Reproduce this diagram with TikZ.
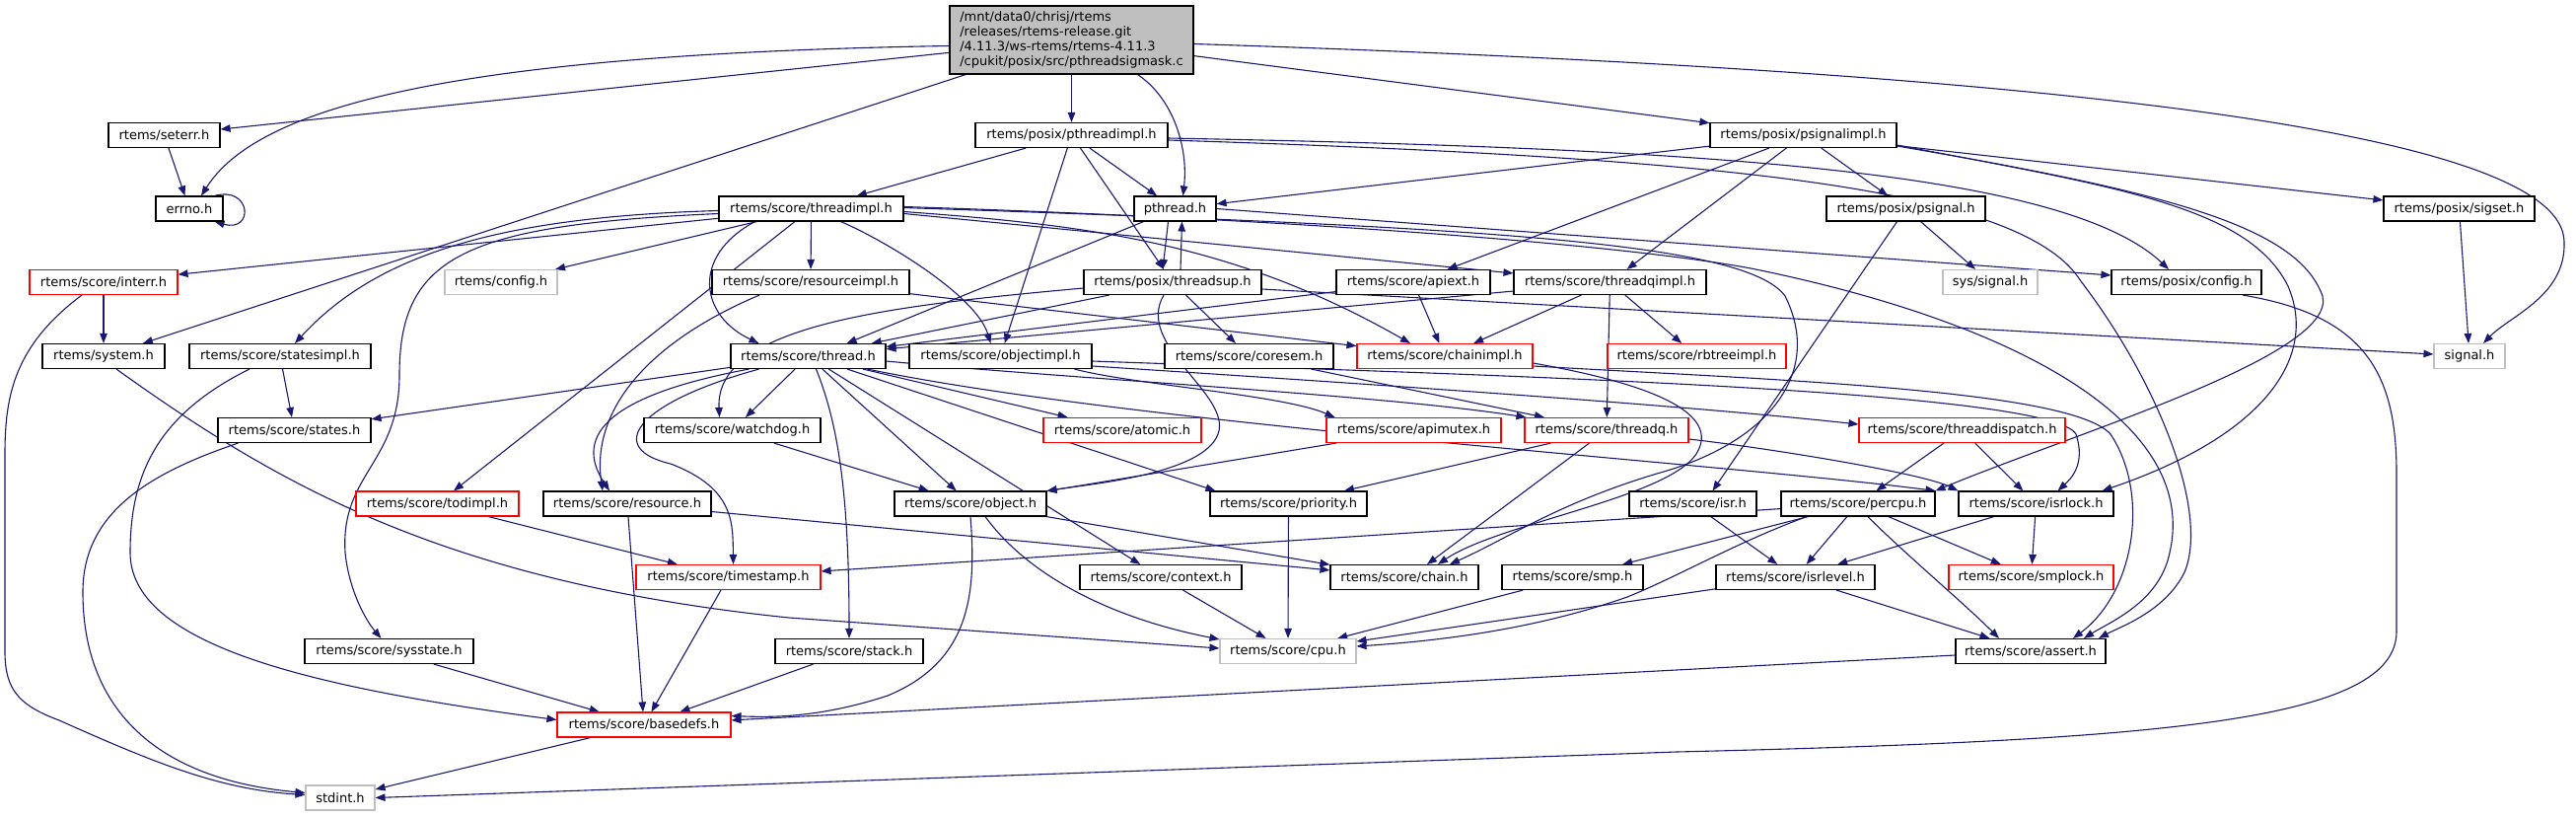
\documentclass[tikz,border=0pt]{standalone}
\usepackage{fontspec}
\setmainfont{DejaVu Sans}
\usetikzlibrary{arrows.meta,backgrounds}
\definecolor{edgec}{HTML}{191970}
\definecolor{redb}{HTML}{FF0000}
\definecolor{greyb}{HTML}{BFBFBF}
\definecolor{mainfill}{HTML}{BFBFBF}
\tikzset{
  hnode/.style={draw=black, fill=white, line width=1.1pt, inner sep=0pt, minimum height=25pt, font=\fontsize{13}{15}\selectfont, anchor=center},
  rednode/.style={hnode, draw=redb},
  greynode/.style={hnode, draw=greyb},
  dep/.style={draw=edgec, line width=1.1pt, -{Triangle[length=10pt,width=7.5pt]}},
}
\begin{document}
\begin{tikzpicture}[x=1pt,y=-1pt]
\useasboundingbox (0,0) rectangle (2612,828);
% row 0
\node[hnode, fill=mainfill, minimum width=247pt, minimum height=69pt, align=left] (main) at (1086.5,40.5) {/mnt/data0/chrisj/rtems\\/releases/rtems-release.git\\/4.11.3/ws-rtems/rtems-4.11.3\\/cpukit/posix/src/pthreadsigmask.c};
% row 1
\node[hnode, minimum width=113pt] (seterr) at (166.5,137) {rtems/seterr.h};
\node[hnode, minimum width=195pt] (pthreadimpl) at (1086.5,137) {rtems/posix/pthreadimpl.h};
\node[hnode, minimum width=189pt] (psignalimpl) at (1828.5,137) {rtems/posix/psignalimpl.h};
% row 2
\node[hnode, minimum width=68pt] (errno) at (192,211.5) {errno.h};
\node[hnode, minimum width=187pt] (threadimpl) at (822.5,211.5) {rtems/score/threadimpl.h};
\node[hnode, minimum width=83pt] (pthread) at (1191.5,211.5) {pthread.h};
\node[hnode, minimum width=161pt] (psignal) at (1932.5,211.5) {rtems/posix/psignal.h};
\node[hnode, minimum width=153pt] (sigset) at (2493.5,211.5) {rtems/posix/sigset.h};
% row 3
\node[rednode, minimum width=150pt] (interr) at (105,286) {rtems/score/interr.h};
\node[greynode, minimum width=114pt] (config) at (508,286) {rtems/config.h};
\node[hnode, minimum width=200pt] (resourceimpl) at (822,286) {rtems/score/resourceimpl.h};
\node[hnode, minimum width=180pt] (threadsup) at (1189,286) {rtems/posix/threadsup.h};
\node[hnode, minimum width=156pt] (apiext) at (1433,286) {rtems/score/apiext.h};
\node[hnode, minimum width=195pt] (threadqimpl) at (1632.5,286) {rtems/score/threadqimpl.h};
\node[greynode, minimum width=96pt] (syssignal) at (2018,286) {sys/signal.h};
\node[hnode, minimum width=152pt] (posixconfig) at (2217,286) {rtems/posix/config.h};
% row 4
\node[hnode, minimum width=124pt] (system) at (105,361) {rtems/system.h};
\node[hnode, minimum width=184pt] (statesimpl) at (284,361) {rtems/score/statesimpl.h};
\node[hnode, minimum width=157pt] (thread) at (819.5,361) {rtems/score/thread.h};
\node[hnode, minimum width=185pt] (objectimpl) at (1014.5,361) {rtems/score/objectimpl.h};
\node[hnode, minimum width=171pt] (coresem) at (1266.5,361) {rtems/score/coresem.h};
\node[rednode, minimum width=178pt] (chainimpl) at (1465,361) {rtems/score/chainimpl.h};
\node[rednode, minimum width=181pt] (rbtreeimpl) at (1720.5,361) {rtems/score/rbtreeimpl.h};
\node[greynode, minimum width=72pt] (signal) at (2504,361) {signal.h};
% row 5
\node[hnode, minimum width=155pt] (states) at (298.5,436) {rtems/score/states.h};
\node[hnode, minimum width=179pt] (watchdog) at (742.5,436) {rtems/score/watchdog.h};
\node[rednode, minimum width=160pt] (atomic) at (1138,436) {rtems/score/atomic.h};
\node[rednode, minimum width=177pt] (apimutex) at (1433.5,436) {rtems/score/apimutex.h};
\node[rednode, minimum width=166pt] (threadq) at (1629,436) {rtems/score/threadq.h};
\node[rednode, minimum width=209pt] (threaddispatch) at (1989.5,436) {rtems/score/threaddispatch.h};
% row 6
\node[rednode, minimum width=165pt] (todimpl) at (443.5,510.5) {rtems/score/todimpl.h};
\node[hnode, minimum width=170pt] (resource) at (636,510.5) {rtems/score/resource.h};
\node[hnode, minimum width=154pt] (object) at (984,510.5) {rtems/score/object.h};
\node[hnode, minimum width=159pt] (priority) at (1306.5,510.5) {rtems/score/priority.h};
\node[hnode, minimum width=129pt] (isr) at (1716.5,510.5) {rtems/score/isr.h};
\node[hnode, minimum width=156pt] (percpu) at (1884,510.5) {rtems/score/percpu.h};
\node[hnode, minimum width=157pt] (isrlock) at (2064.5,510.5) {rtems/score/isrlock.h};
% row 7
\node[rednode, minimum width=187pt] (timestamp) at (738.5,585) {rtems/score/timestamp.h};
\node[hnode, minimum width=164pt] (context) at (1177,585) {rtems/score/context.h};
\node[hnode, minimum width=150pt] (chain) at (1424,585) {rtems/score/chain.h};
\node[hnode, minimum width=143pt] (smp) at (1594.5,585) {rtems/score/smp.h};
\node[hnode, minimum width=161pt] (isrlevel) at (1820.5,585) {rtems/score/isrlevel.h};
\node[rednode, minimum width=167pt] (smplock) at (2059.5,585) {rtems/score/smplock.h};
% row 8
\node[hnode, minimum width=171pt] (sysstate) at (394.5,660) {rtems/score/sysstate.h};
\node[hnode, minimum width=150pt] (stack) at (861,660) {rtems/score/stack.h};
\node[greynode, minimum width=138pt] (cpu) at (1306,660) {rtems/score/cpu.h};
\node[hnode, minimum width=152pt] (assert) at (2059,660) {rtems/score/assert.h};
% row 9, 10
\node[rednode, minimum width=176pt] (basedefs) at (653,734.5) {rtems/score/basedefs.h};
\node[greynode, minimum width=70pt] (stdint) at (345,808.5) {stdint.h};

\begin{pgfonlayer}{background}
% main
\draw[dep] (main) -- (seterr);
\draw[dep] ([yshift=-6]main.west) .. controls (450,55) and (260,110) .. ([xshift=12]errno.north);
\draw[dep] (main) -- (system);
\draw[dep] (main) -- (pthreadimpl);
\draw[dep] ([xshift=67]main.south) .. controls (1190,100) and (1205,150) .. ([xshift=8]pthread.north);
\draw[dep] (main) -- (psignalimpl);
\draw[dep] ([yshift=-4]main.east) .. controls (2150,75) and (2598,140) .. (2600,245) .. controls (2602,300) and (2545,320) .. ([xshift=14]signal.north);
% seterr, errno
\draw[dep] (seterr) -- (errno);
\draw[dep] ([xshift=-9]errno.north east) .. controls (255,188) and (258,236) .. ([xshift=-9]errno.south east);
% pthreadimpl
\draw[dep] (pthreadimpl) -- (threadimpl);
\draw[dep] (pthreadimpl) -- (pthread);
\draw[dep] (pthreadimpl) -- (threadsup);
\draw[dep] (pthreadimpl) -- (objectimpl);
\draw[dep] ([yshift=-3]pthreadimpl.east) .. controls (1700,150) and (2090,170) .. ([xshift=-18]posixconfig.north);
\draw[dep] ([yshift=-5]pthreadimpl.east) .. controls (1750,160) and (2050,190) .. (2110,285) .. controls (2190,390) and (2240,520) .. (2215,580) .. controls (2195,620) and (2150,635) .. ([xshift=69]assert.north);
% pthread
\draw[dep] ([xshift=-7]pthread.south) -- ([xshift=-10]threadsup.north);
\draw[dep] ([xshift=8]threadsup.north) -- ([xshift=7]pthread.south);
\draw[dep] (pthread) -- ([xshift=-40]thread.north east);
\draw[dep] (pthread.east) -- ([yshift=7]posixconfig.west);
% psignalimpl
\draw[dep] (psignalimpl) -- (pthread);
\draw[dep] (psignalimpl) -- (apiext);
\draw[dep] (psignalimpl) -- (threadqimpl);
\draw[dep] (psignalimpl) -- (psignal);
\draw[dep] (psignalimpl) -- (sigset);
\draw[dep] ([yshift=-10]psignalimpl.east) .. controls (2150,190) and (2280,210) .. (2320,290) .. controls (2350,360) and (2300,440) .. ([xshift=-12]isrlock.north east);
\draw[dep] ([yshift=-11]psignalimpl.east) .. controls (2200,195) and (2330,230) .. (2355,300) .. controls (2370,360) and (2100,440) .. (percpu.north east);
% psignal, sigset, posix config
\draw[dep] (psignal) -- (syssignal);
\draw[dep] (psignal) -- ([xshift=20]isr.north);
\draw[dep] (sigset) -- (signal);
\draw[dep] ([xshift=57]posixconfig.south) .. controls (2400,320) and (2430,380) .. (2430,480) -- (2430,640) .. controls (2430,730) and (2200,750) .. (1700,762) -- (stdint.east);
% threadimpl
\draw[dep] (threadimpl) -- (interr);
\draw[dep] ([yshift=-2]threadimpl.west) .. controls (500,220) and (380,260) .. ([xshift=15]statesimpl.north);
\draw[dep] ([yshift=-5]threadimpl.west) .. controls (470,228) and (405,260) .. (405,380) .. controls (405,470) and (345,480) .. (350,560) .. controls (354,600) and (372,630) .. ([xshift=-8]sysstate.north);
\draw[dep] (threadimpl) -- (config);
\draw[dep] (threadimpl) -- (todimpl);
\draw[dep] ([xshift=-57]threadimpl.south) .. controls (700,260) and (710,320) .. ([xshift=-50]thread.north);
\draw[dep] (threadimpl) -- (resourceimpl);
\draw[dep] ([xshift=30]threadimpl.south) .. controls (900,245) and (990,300) .. ([xshift=-10]objectimpl.north);
\draw[dep] ([yshift=-3]threadimpl.east) .. controls (1100,228) and (1250,245) .. ([xshift=-35]chainimpl.north);
\draw[dep] ([yshift=-5]threadimpl.east) -- ([yshift=-4]threadqimpl.north west);
\draw[dep] ([yshift=2]threadimpl.east) .. controls (1400,225) and (1700,255) .. (1790,275) .. controls (2050,330) and (2230,430) .. (2200,560) .. controls (2190,610) and (2140,630) .. ([xshift=54]assert.north);
\draw[dep] ([yshift=1]threadimpl.east) .. controls (1500,230) and (1770,245) .. (1810,300) .. controls (1850,380) and (1790,450) .. (1680,480) .. controls (1580,510) and (1530,545) .. ([xshift=46]chain.north);
% interr
\draw[dep] (interr) -- (system);
\draw[dep] ([xshift=-22]interr.south) .. controls (15,350) and (5,400) .. (5,460) -- (5,660) .. controls (5,700) and (20,715) .. (60,730) .. controls (150,770) and (220,800) .. ([yshift=3]stdint.west);
% system
\draw[dep] ([xshift=13]system.south) .. controls (280,490) and (450,590) .. (800,626) -- ([yshift=3]cpu.west);
% statesimpl, states
\draw[dep] (statesimpl) -- (states);
\draw[dep] ([xshift=-31]statesimpl.south) .. controls (160,420) and (132,480) .. (132,560) .. controls (132,650) and (300,695) .. ([yshift=5]basedefs.west);
\draw[dep] ([xshift=-57]states.south) .. controls (150,480) and (84,520) .. (84,600) .. controls (84,720) and (160,790) .. ([yshift=5]stdint.west);
% resourceimpl
\draw[dep] ([xshift=-52]resourceimpl.south) .. controls (650,350) and (600,420) .. ([xshift=-25]resource.north);
\draw[dep] (resourceimpl) -- (chainimpl);
% threadsup
\draw[dep] (threadsup) -- (thread);
\draw[dep] ([yshift=-7]threadsup.east) -- ([yshift=2]signal.west);
\draw[dep] ([yshift=-6]threadsup.west) .. controls (900,310) and (725,330) .. ([xshift=-13]watchdog.north);
\draw[dep] (threadsup) -- (coresem);
\draw[dep] ([xshift=-9]threadsup.south) .. controls (1150,350) and (1250,400) .. (1235,440) .. controls (1220,480) and (1110,490) .. (object.north east);
% apiext, threadqimpl
\draw[dep] (apiext) -- (thread);
\draw[dep] (apiext) -- (chainimpl);
\draw[dep] (threadqimpl) -- (thread);
\draw[dep] (threadqimpl) -- (chainimpl);
\draw[dep] (threadqimpl) -- (rbtreeimpl);
\draw[dep] (threadqimpl) -- (threadq);
% thread
\draw[dep] (thread) -- (states);
\draw[dep] ([xshift=-60]thread.south) .. controls (620,400) and (580,440) .. ([xshift=-18]resource.north);
\draw[dep] ([xshift=-50]thread.south) .. controls (640,410) and (615,455) .. (680,470) .. controls (745,495) and (743,530) .. ([xshift=5]timestamp.north);
\draw[dep] (thread) -- (watchdog);
\draw[dep] ([xshift=8]thread.south) .. controls (850,430) and (861,500) .. (stack.north);
\draw[dep] (thread) -- (object);
\draw[dep] (thread) -- (atomic);
\draw[dep] (thread) -- ([xshift=6]priority.north west);
\draw[dep] ([yshift=-5]thread.east) .. controls (1100,385) and (1400,400) .. ([xshift=2]threadq.north west);
\draw[dep] (thread) -- (context);
\draw[dep] ([xshift=60]thread.south) .. controls (1150,430) and (1750,470) .. (percpu.north east);
% lower nodes
\draw[dep] (watchdog) -- (object);
\draw[dep] (todimpl) -- (timestamp);
\draw[dep] (resource) -- (basedefs);
\draw[dep] (resource) -- (chain);
\draw[dep] (timestamp) -- (basedefs);
\draw[dep] (sysstate) -- (basedefs);
\draw[dep] (stack) -- (basedefs);
\draw[dep] (basedefs) -- (stdint);
\draw[dep] (object.south) .. controls (990,600) and (985,670) .. (900,705) .. controls (830,728) and (780,727) .. ([yshift=9]basedefs.east);
\draw[dep] ([xshift=15]object.south) .. controls (1040,580) and (1120,625) .. ([yshift=-1]cpu.north west);
\draw[dep] (object) -- (chain);
\draw[dep] (priority) -- (cpu);
\draw[dep] (context) -- (cpu);
\draw[dep] (smp) -- (cpu);
\draw[dep] (isrlevel) -- ([yshift=10]cpu.east);
\draw[dep] ([xshift=-52]percpu.south) .. controls (1760,550) and (1700,585) .. (1650,605) .. controls (1550,640) and (1450,650) .. ([yshift=5]cpu.east);
\draw[dep] (percpu) -- (timestamp);
\draw[dep] (percpu) -- (smp);
\draw[dep] (percpu) -- (isrlevel);
\draw[dep] ([xshift=10]percpu.south) .. controls (1930,560) and (1990,610) .. ([xshift=-32]assert.north);
\draw[dep] (percpu) -- (smplock);
\draw[dep] (isr) -- (isrlevel);
\draw[dep] (isrlock) -- (isrlevel);
\draw[dep] (isrlock) -- (smplock);
\draw[dep] (isrlevel) -- (assert);
\draw[dep] (assert) -- (basedefs);
\draw[dep] (threaddispatch) -- (percpu);
\draw[dep] (threaddispatch) -- (isrlock);
\draw[dep] (threadq) -- (priority);
\draw[dep] (threadq) -- ([xshift=23]chain.north);
\draw[dep] ([yshift=-9]threadq.east) .. controls (1800,455) and (1950,480) .. (isrlock.north west);
\draw[dep] ([yshift=-7]chainimpl.east) .. controls (1680,390) and (1745,420) .. (1720,460) .. controls (1690,505) and (1520,530) .. ([xshift=34]chain.north);
\draw[dep] ([yshift=-10]chainimpl.east) .. controls (1800,385) and (2100,395) .. (2140,440) .. controls (2180,500) and (2165,600) .. ([xshift=43]assert.north);
\draw[dep] ([xshift=75]objectimpl.south) .. controls (1150,390) and (1300,400) .. ([xshift=-80]apimutex.north);
\draw[dep] ([yshift=-5]objectimpl.east) .. controls (1500,380) and (2080,395) .. (2105,440) .. controls (2115,470) and (2100,485) .. ([xshift=22]isrlock.north);
\draw[dep] ([yshift=-10]objectimpl.east) .. controls (1400,390) and (1700,410) .. ([yshift=6]threaddispatch.west);
\draw[dep] (coresem) -- (threadq);
\draw[dep] (apimutex) -- (object);
\end{pgfonlayer}
\end{tikzpicture}
\end{document}
